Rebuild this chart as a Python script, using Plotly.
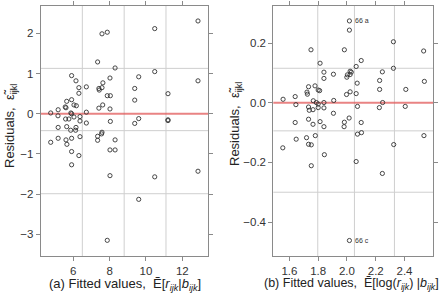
import plotly.graph_objects as go

# ---- data: panel (a) ----
fit_a = [4.76, 4.76, 5.17, 5.16, 5.17, 5.17, 5.56, 5.64, 5.60, 5.58, 5.64, 5.60, 5.65, 5.76,
         5.87, 5.91, 5.91, 5.91, 5.91, 5.91, 5.91, 5.86, 6.04, 6.04, 6.15, 6.17, 6.13, 6.15,
         6.31, 6.31, 6.31, 6.37, 6.37, 6.37, 6.72, 6.72, 6.72, 7.34, 7.34, 7.34, 7.41, 7.43,
         7.41, 7.58, 7.58, 7.58, 7.56, 7.62, 7.63, 7.87, 7.87, 7.87, 8.02, 8.02, 8.02, 8.02,
         8.04, 8.04, 8.30, 8.30, 8.30, 9.38, 9.38, 9.38, 9.60, 9.60, 9.60, 10.48, 10.48, 10.48,
         11.21, 11.21, 11.21, 12.86, 12.86, 12.86]
res_a = [0.02, -0.71, 0.10, -0.05, -0.34, -0.61, 0.17, 0.31, 0.15, -0.13, -0.32, -0.65, -0.76, -0.13,
         0.02, 0.00, 0.35, 0.95, -0.61, -0.94, -1.27, -0.41, 0.22, -0.08, 0.82, 0.20, -0.41, -0.34,
         0.65, 0.51, -1.04, -0.07, -0.18, -0.57, 0.67, 0.04, -0.23, 1.29, -0.56, -0.66, 0.63, 0.59,
         0.14, 1.99, 0.65, -0.46, -0.50, 0.22, 0.77, 2.03, 0.45, -3.15, 0.89, 0.12, -0.90, -1.54,
         0.45, -0.19, 1.14, -0.65, -0.90, 0.63, 0.34, -0.24, 0.92, -0.12, -2.13, 2.12, 1.05, -1.57,
         0.50, -0.15, -0.17, 2.31, 0.82, -1.43]
grid_x_a = [6.5, 8.8, 11.1]
grid_y_a = [1.13, -0.42, -1.99]

# ---- data: panel (b) ----
fit_b = [1.556, 1.640, 1.645, 1.640, 1.750, 1.813, 1.733, 1.722, 1.725, 1.778, 1.800, 1.810,
         1.766, 1.787, 1.800, 1.840, 1.840, 1.840, 1.906, 1.908, 1.906, 1.733, 1.738, 1.764,
         1.800, 1.840, 1.733, 1.764, 1.813, 1.840, 1.982, 2.017, 2.017, 1.999, 2.003, 2.022,
         2.030, 2.022, 1.997, 2.022, 2.064, 2.099, 2.071, 2.064, 2.073, 2.015, 1.982, 1.980,
         2.099, 2.227, 2.227, 2.246, 2.248, 2.225, 2.323, 2.323, 2.409, 2.405, 2.533, 2.538,
         1.554, 1.647, 1.719, 1.733, 1.752, 1.780, 1.752, 1.843, 2.073, 2.101, 2.325, 2.064,
         2.246, 2.535, 2.017]
res_b = [0.012, 0.021, -0.006, -0.066, 0.178, 0.133, 0.054, 0.036, 0.029, 0.057, 0.043, 0.041,
         0.007, 0.001, -0.004, 0.001, 0.103, 0.082, 0.096, 0.008, -0.035, -0.014, -0.025, -0.023,
         -0.016, -0.017, -0.055, -0.072, -0.063, -0.080, 0.178, 0.275, 0.244, 0.086, 0.094, 0.106,
         0.103, 0.095, 0.028, 0.037, 0.122, 0.142, 0.066, 0.031, -0.012, -0.051, -0.065, -0.080,
         -0.066, 0.075, 0.045, 0.104, 0.001, -0.016, 0.205, 0.116, 0.045, -0.012, 0.174, 0.072,
         -0.151, -0.122, -0.117, -0.139, -0.141, -0.110, -0.211, -0.174, -0.105, -0.100, -0.140, -0.197,
         -0.237, -0.110, -0.462]
grid_x_b = [1.797, 2.052, 2.33]
grid_y_b = [0.116, -0.094, -0.30]
label_x = [2.017, 2.017]
label_y = [0.275, -0.462]
label_txt = ["66 a", "66 c"]

FONT = "Liberation Sans, Arial, sans-serif"
FRAME = "#8a8a8a"
GRID = "#cfcfcf"

fig = go.Figure()
marker = dict(symbol="circle-open", size=4.2, color="#333333", line=dict(width=0.9, color="#333333"))
fig.add_trace(go.Scatter(x=fit_a, y=res_a, mode="markers", marker=marker, xaxis="x", yaxis="y",
                         showlegend=False, hoverinfo="skip"))
fig.add_trace(go.Scatter(x=fit_b, y=res_b, mode="markers", marker=marker, xaxis="x2", yaxis="y2",
                         showlegend=False, hoverinfo="skip"))

shapes = []
for xr, yr, gx, gy in [("x", "y", grid_x_a, grid_y_a), ("x2", "y2", grid_x_b, grid_y_b)]:
    for v in gx:
        shapes.append(dict(type="line", xref=xr, yref=yr + " domain", x0=v, x1=v, y0=0, y1=1,
                           line=dict(color=GRID, width=1), layer="below"))
    for v in gy:
        shapes.append(dict(type="line", xref=xr + " domain", yref=yr, x0=0, x1=1, y0=v, y1=v,
                           line=dict(color=GRID, width=1), layer="below"))
    shapes.append(dict(type="line", xref=xr + " domain", yref=yr, x0=0, x1=1, y0=0, y1=0,
                       line=dict(color="rgba(225,90,90,0.75)", width=2), layer="below"))

axis_common = dict(showline=True, linecolor=FRAME, linewidth=1, mirror="ticks", ticks="outside",
                   ticklen=4, tickcolor=FRAME, showgrid=False, zeroline=False,
                   tickfont=dict(family=FONT, size=11.5, color="#333333"))

annotations = [
    dict(text="(a) Fitted values,&nbsp;&nbsp;Ẽ[<i>r</i><sub><i>ijk</i></sub>|<i>b</i><sub><i>ijk</i></sub>]",
         xref="paper", yref="paper", x=124.5 / 442, y=(296 - 284) / 296, showarrow=False,
         xanchor="center", yanchor="middle", font=dict(family=FONT, size=13, color="#222222")),
    dict(text="(b) Fitted values,&nbsp;&nbsp;Ẽ[log(<i>r</i><sub><i>ijk</i></sub>) |<i>b</i><sub><i>ijk</i></sub>]",
         xref="paper", yref="paper", x=440.5 / 442, y=(296 - 284) / 296, showarrow=False,
         xanchor="right", yanchor="middle", font=dict(family=FONT, size=12.5, color="#222222")),
    dict(text="Residuals,&nbsp;&nbsp;ε̃<sub>ijkl</sub>", textangle=-90,
         xref="paper", yref="paper", x=10 / 442, y=(296 - 126) / 296, showarrow=False,
         xanchor="center", yanchor="middle", font=dict(family=FONT, size=13, color="#222222")),
    dict(text="Residuals,&nbsp;&nbsp;ε̃<sub>ijkl</sub>", textangle=-90,
         xref="paper", yref="paper", x=235 / 442, y=(296 - 124) / 296, showarrow=False,
         xanchor="center", yanchor="middle", font=dict(family=FONT, size=13, color="#222222")),
]
for lx, ly, lt in zip(label_x, label_y, label_txt):
    annotations.append(dict(text=lt, x=lx, y=ly, xref="x2", yref="y2", showarrow=False,
                            xanchor="left", yanchor="middle", xshift=4,
                            font=dict(family=FONT, size=7, color="#333333")))

y_dom = [(296 - 256) / 296, (296 - 5.7) / 296]
fig.update_layout(
    width=442, height=296, margin=dict(l=0, r=0, t=0, b=0),
    paper_bgcolor="white", plot_bgcolor="white",
    xaxis=dict(domain=[40.7 / 442, 208 / 442], range=[4.21, 13.41], tickvals=[6, 8, 10, 12],
               anchor="y", **axis_common),
    yaxis=dict(domain=y_dom, range=[-3.54, 2.69], tickvals=[-3, -2, -1, 0, 1, 2],
               anchor="x", **axis_common),
    xaxis2=dict(domain=[273.3 / 442, 433 / 442], range=[1.488, 2.598],
                tickvals=[1.6, 1.8, 2.0, 2.2, 2.4, 2.6], ticktext=["1.6", "1.8", "2.0", "2.2", "2.4", ""],
                anchor="y2", **axis_common),
    yaxis2=dict(domain=y_dom, range=[-0.514, 0.326], tickvals=[-0.4, -0.2, 0.0, 0.2],
                tickformat=".1f", anchor="x2", **axis_common),
    shapes=shapes, annotations=annotations,
)
fig.write_html("out.html")
